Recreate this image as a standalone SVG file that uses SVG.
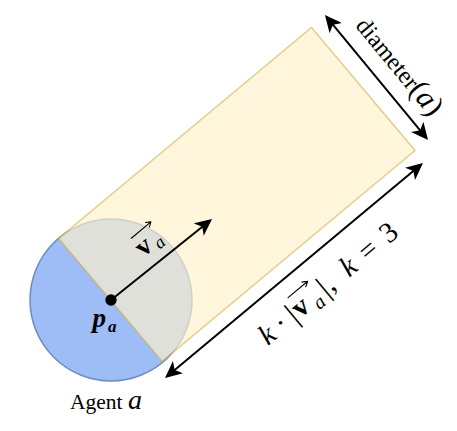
<svg xmlns="http://www.w3.org/2000/svg" width="457" height="431" viewBox="0 0 457 431">
<style>
text{font-family:"Liberation Serif","DejaVu Serif",serif;fill:#000}
.it{font-style:italic}
.b{font-weight:bold}
.bi{font-weight:bold;font-style:italic}
.ln{stroke:#000;stroke-width:2;fill:none}
.thin{stroke:#000;stroke-width:1.1;fill:none;stroke-linecap:round;stroke-linejoin:round}
</style>
<defs>
<marker id="ah" viewBox="0 0 17 16" refX="13" refY="8" markerWidth="17" markerHeight="16" markerUnits="userSpaceOnUse" orient="auto-start-reverse">
<path d="M0,0 L17,8 L0,16 L4.5,8 Z" fill="#000"/>
</marker>
</defs>
<rect width="457" height="431" fill="#fff"/>
<g id="agent">
<circle cx="111" cy="300" r="81" fill="#9ebcf5" stroke="#6c8ebf" stroke-width="1.5"/>
<text class="bi" x="92.5" y="327" font-size="27">p</text>
<text class="bi" x="108" y="331.5" font-size="17">a</text>
<text x="70" y="409" font-size="21.5">Agent <tspan class="it" font-size="28">a</tspan></text>
</g>
<g id="lookahead-region">
<polygon points="58.5,238.5 311.5,27.5 415,150.5 162,361.5" fill="#fff2cc" stroke="#d6b656" stroke-width="1.5" opacity="0.68"/>
</g>
<g id="agent-position">
<circle cx="111" cy="300" r="5.7" fill="#000"/>
</g>
<g id="connectors">
<line class="ln" x1="111" y1="300" x2="208.9" y2="221.5" marker-end="url(#ah)"/>
<line class="ln" x1="327.5" y1="18.1" x2="425.5" y2="136.9" marker-start="url(#ah)" marker-end="url(#ah)"/>
<line class="ln" x1="168.1" y1="375.4" x2="419.9" y2="165.6" marker-start="url(#ah)" marker-end="url(#ah)"/>
</g>
<g id="velocity-label" transform="translate(145,248.3) rotate(-40)">
<text class="b" x="0" y="6" font-size="28" text-anchor="middle">v</text>
<text class="it" x="15" y="10.6" font-size="18" text-anchor="middle">a</text>
<path class="thin" d="M-4,-16.5 H21.5 M17,-19.5 L21.5,-16.5 L17,-13.5"/>
</g>
<g id="diameter-label" transform="translate(376.5,77.5) rotate(50.5)">
<text x="6" y="-16" text-anchor="middle" font-size="24">diameter<tspan font-size="30">(<tspan class="it">a</tspan>)</tspan></text>
</g>
<g id="length-label" transform="translate(294,270.5) rotate(-40)">
<text class="it" x="-62" y="41" font-size="29" text-anchor="middle">k</text>
<text x="-44" y="41" font-size="29" text-anchor="middle">·</text>
<text x="-30" y="42" font-size="31" text-anchor="middle">|</text>
<text class="b" x="-18.7" y="41" font-size="29" text-anchor="middle">v</text>
<text class="it" x="-1" y="47" font-size="20" text-anchor="middle">a</text>
<path class="thin" d="M-22,17 H3.6 M-1.4,14 L3.6,17 L-1.4,20"/>
<text x="11" y="42" font-size="31" text-anchor="middle">|</text>
<text x="18.5" y="41" font-size="29" text-anchor="middle">,</text>
<text class="it" x="44" y="41" font-size="29" text-anchor="middle">k</text>
<text x="70" y="41" font-size="29" text-anchor="middle">=</text>
<text x="97" y="41" font-size="29" text-anchor="middle">3</text>
</g>
</svg>
